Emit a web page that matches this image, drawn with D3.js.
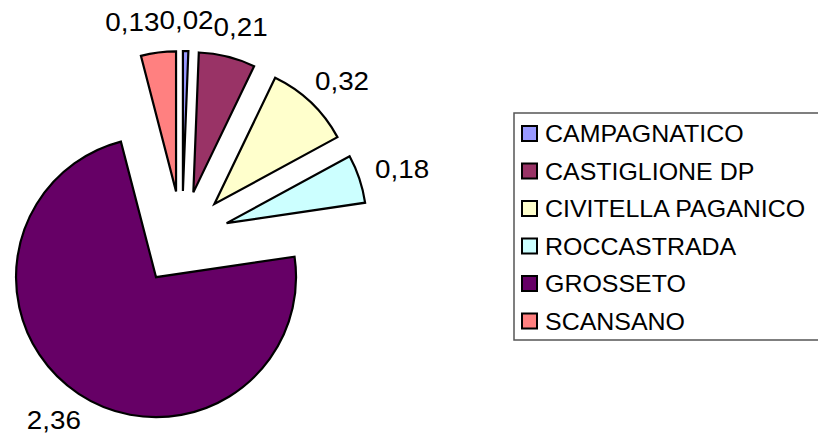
<!DOCTYPE html>
<html>
<head>
<meta charset="utf-8">
<script src="https://cdn.jsdelivr.net/npm/d3@7"></script>
<style>
html,body{margin:0;padding:0;background:#fff;}
svg{display:block;}
text{font-family:"Liberation Sans",Arial,sans-serif;fill:#000;}
</style>
</head>
<body>
<svg id="chart" width="818" height="440"></svg>
<script>
const categories = ["CAMPAGNATICO","CASTIGLIONE DP","CIVITELLA PAGANICO","ROCCASTRADA","GROSSETO","SCANSANO"];
const values = [0.02, 0.21, 0.32, 0.18, 2.36, 0.13];
const valueLabels = ["0,02","0,21","0,32","0,18","2,36","0,13"];
const colors = ["#9999FF","#993366","#FFFFCC","#CCFFFF","#660066","#FF8080"];

const svg = d3.select("#chart");
const cx = 182, cy = 238, r = 140, explode = 47;
const labelRx = 232, labelRy = 218;

const data = categories.map((c,i)=>({name:c, value:values[i], label:valueLabels[i], color:colors[i]}));
const pie = d3.pie().sort(null).value(d=>d.value);
const arc = d3.arc().innerRadius(0).outerRadius(r);
const arcs = pie(data);

const g = svg.append("g").attr("transform",`translate(${cx},${cy})`);
arcs.forEach(a=>{
  const mid = (a.startAngle+a.endAngle)/2;
  const dx = Math.sin(mid), dy = -Math.cos(mid);
  g.append("path")
    .attr("d", arc(a))
    .attr("transform",`translate(${dx*explode},${dy*explode})`)
    .attr("fill", a.data.color)
    .attr("stroke","#000")
    .attr("stroke-width",2.2)
    .attr("stroke-linejoin","miter");
});
// labels
const sx = 1.07, fs = 26;
const labels = arcs.map(a=>{
  const mid = (a.startAngle+a.endAngle)/2;
  const dx = Math.sin(mid), dy = -Math.cos(mid);
  const t = g.append("text")
    .attr("text-anchor","middle")
    .attr("y", fs*0.36)
    .attr("font-size",fs)
    .text(a.data.label);
  const w = t.node().getComputedTextLength()*sx;
  return {t, dx, x: dx*labelRx, y: dy*labelRy, w, h: fs*0.75};
});
// simple collision avoidance: the label farther from the vertical axis moves outward
const sorted = labels.slice().sort((a,b)=>Math.abs(a.dx)-Math.abs(b.dx));
for (let k=1;k<sorted.length;k++){
  const B = sorted[k];
  for (let j=0;j<k;j++){
    const A = sorted[j];
    if (Math.abs(A.y-B.y) < (A.h+B.h)/2) {
      const ov = (A.w+B.w)/2 - Math.abs(A.x-B.x);
      if (ov > 0) B.x += (B.dx >= 0 ? ov : -ov);
    }
  }
}
labels.forEach(L=>L.t.attr("transform",`translate(${L.x},${L.y}) scale(${sx},1)`));

// legend
const lg = svg.append("g");
lg.append("rect")
  .attr("x",514).attr("y",113).attr("width",330).attr("height",227)
  .attr("fill","#fff").attr("stroke","#555").attr("stroke-width",1.5);
data.forEach((d,i)=>{
  const yc = 133.5 + i*37.5;
  lg.append("rect")
    .attr("x",522).attr("y",yc-7.5).attr("width",15).attr("height",15)
    .attr("fill",d.color).attr("stroke","#000").attr("stroke-width",2);
  lg.append("text")
    .attr("transform",`translate(545,${yc}) scale(1.04,1)`)
    .attr("y",24*0.36)
    .attr("font-size",24)
    .text(d.name);
});
</script>
</body>
</html>
